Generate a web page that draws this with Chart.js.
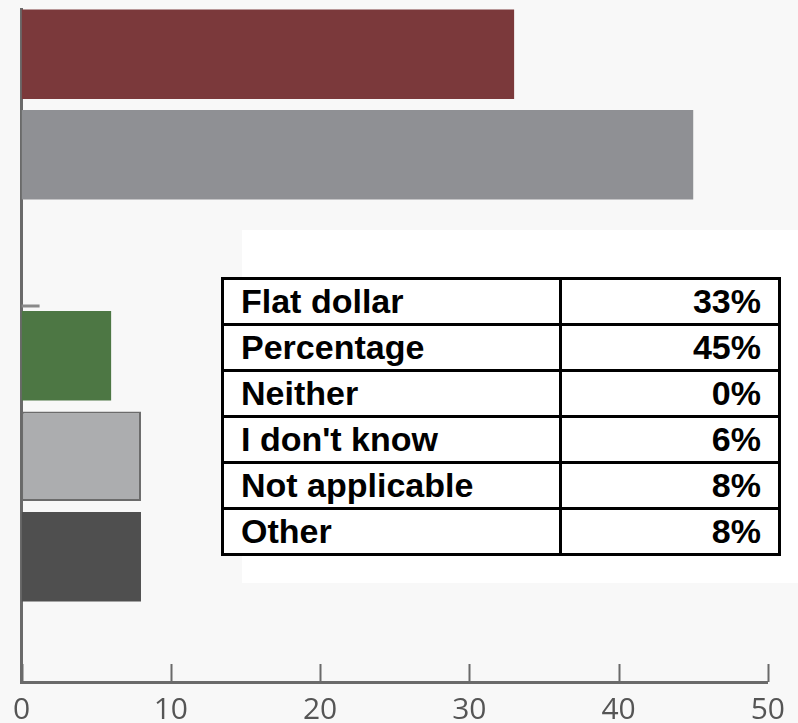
<!DOCTYPE html>
<html>
<head>
<meta charset="utf-8">
<script src="https://cdn.jsdelivr.net/npm/chart.js@4/dist/chart.umd.min.js"></script>
<style>
  html, body { margin: 0; padding: 0; background: #f8f8f8; }
  #wrap { position: relative; width: 798px; height: 723px; overflow: hidden; }
  #chart { position: absolute; left: 0; top: 0; }
  #panel { position: absolute; left: 242px; top: 230px; width: 556px; height: 353px; background: #ffffff; }
  #tbl {
    position: absolute; left: 221px; top: 277px; width: 560px;
    border-collapse: collapse; font-family: "Liberation Sans", Arial, sans-serif;
    font-weight: bold; font-size: 34px; color: #000; background: #fff;
  }
  #tbl td { border: 3px solid #000; height: 43px; padding: 0 17px 0 17px; line-height: 43px; white-space: nowrap; }
  #tbl td.v { text-align: right; width: 182px; }
</style>
</head>
<body>
<div id="wrap">
  <canvas id="chart" width="798" height="723"></canvas>
  <div id="panel"></div>
  <table id="tbl"></table>
</div>
<script>
// Survey answers and their shares (percent)
const categories = ["Flat dollar", "Percentage", "Neither", "I don't know", "Not applicable", "Other"];
const values = [33, 45, 0, 6, 8, 8];
const barColors = ["#7b393b", "#8f9094", "#8f9094", "#4d7744", "#acadaf", "#4f4f4f"];
const barBorders = ["#7b393b", "#8f9094", "#8f9094", "#4d7744", "#6b6b6b", "#4f4f4f"];
const borderWidths = [0, 0, 0, 0, 2, 0];
const xTicks = [0, 10, 20, 30, 40, 50];

// Summary table beside the bars
const tbl = document.getElementById('tbl');
categories.forEach((c, i) => {
  const tr = document.createElement('tr');
  const a = document.createElement('td'); a.textContent = c;
  const b = document.createElement('td'); b.className = 'v'; b.textContent = values[i] + '%';
  tr.appendChild(a); tr.appendChild(b); tbl.appendChild(tr);
});

// Upward tick marks on the value axis, plus the short divider stub on the category axis
const axisMarks = {
  id: 'axisMarks',
  afterDraw(chart) {
    const { ctx, scales: { x, y }, chartArea } = chart;
    ctx.save();
    ctx.strokeStyle = '#6a6a6a';
    ctx.lineWidth = 2;
    xTicks.forEach(v => {
      const px = Math.round(x.getPixelForValue(v)) + 0.5;
      ctx.beginPath();
      ctx.moveTo(px, chartArea.bottom);
      ctx.lineTo(px, chartArea.bottom - 18);
      ctx.stroke();
    });
    const sy = Math.round(y.getPixelForValue(2.5));
    ctx.strokeStyle = '#8a8a8a';
    ctx.lineWidth = 3;
    ctx.beginPath();
    ctx.moveTo(chartArea.left, sy);
    ctx.lineTo(chartArea.left + 18, sy);
    ctx.stroke();
    ctx.restore();
  }
};

new Chart(document.getElementById('chart'), {
  type: 'bar',
  data: {
    datasets: [{
      data: values.map((v, i) => ({ x: v, y: i })),
      backgroundColor: barColors,
      borderColor: barBorders,
      borderWidth: borderWidths,
      borderSkipped: false,
      barPercentage: 0.89,
      categoryPercentage: 1.0
    }]
  },
  options: {
    indexAxis: 'y',
    responsive: false,
    animation: false,
    devicePixelRatio: 1,
    layout: { padding: { left: 20, right: 28, top: 9, bottom: -15 } },
    plugins: { legend: { display: false }, tooltip: { enabled: false } },
    scales: {
      x: {
        type: 'linear', min: 0, max: 50,
        afterBuildTicks: s => { s.ticks = xTicks.map(v => ({ value: v })); },
        grid: { display: false, drawTicks: false },
        border: { display: true, color: '#6a6a6a', width: 3 },
        ticks: { color: '#555555', padding: 13, font: { family: 'Open Sans', size: 30, lineHeight: 1.0 } }
      },
      y: {
        type: 'linear', reverse: true, min: -0.45, max: 6.245, offset: false,
        afterBuildTicks: s => { s.ticks = categories.map((c, i) => ({ value: i })); },
        grid: { display: false, drawTicks: false },
        border: { display: true, color: '#6a6a6a', width: 3 },
        ticks: { display: false }
      }
    }
  },
  plugins: [axisMarks]
});
</script>
</body>
</html>
